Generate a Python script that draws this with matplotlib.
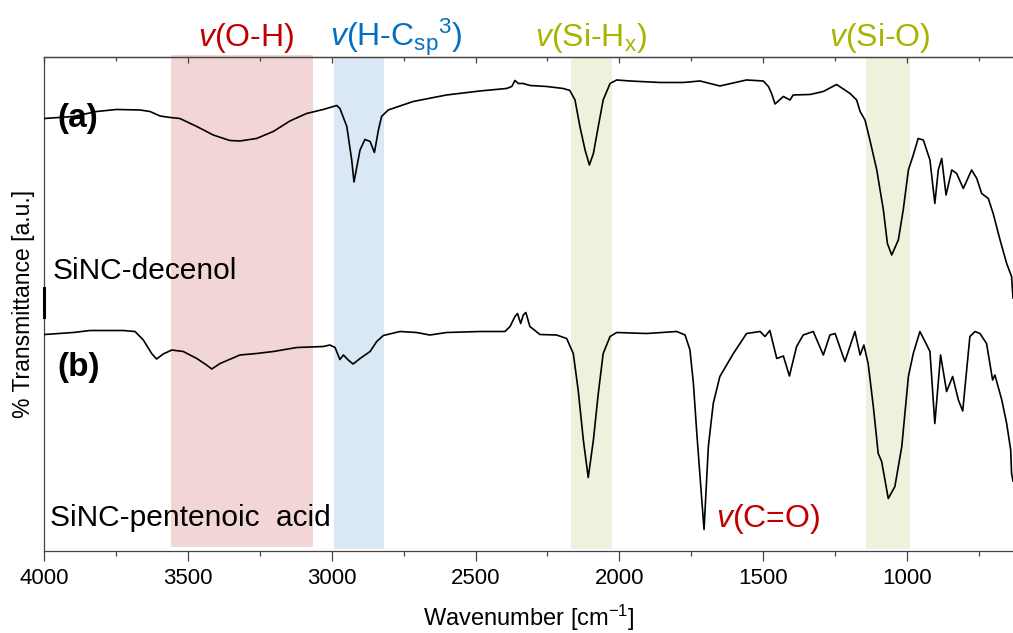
import matplotlib
matplotlib.use("Agg")
import matplotlib.pyplot as plt
from matplotlib.ticker import MultipleLocator

plt.rcParams["font.family"] = ["Liberation Sans", "DejaVu Sans"]
plt.rcParams["mathtext.fontset"] = "custom"
plt.rcParams["mathtext.rm"] = "Liberation Sans"
plt.rcParams["mathtext.it"] = "Liberation Sans:italic"
plt.rcParams["mathtext.bf"] = "Liberation Sans:bold"

# FTIR spectrum (a): SiNC-decenol (wavenumber in cm^-1, offset transmittance in a.u.)
wn_a = [4000, 3900, 3818, 3749, 3668, 3633, 3598, 3563, 3529, 3470, 3413, 3355,
        3320, 3262, 3204, 3146, 3088, 3030, 2983, 2972, 2948, 2931, 2923, 2902,
        2885, 2867, 2852, 2838, 2827, 2804, 2717, 2601, 2485, 2392, 2374, 2363,
        2351, 2334, 2311, 2253, 2195, 2172, 2154, 2137, 2119, 2104, 2090, 2073,
        2056, 2032, 2009, 1963, 1858, 1777, 1719, 1650, 1557, 1499, 1481, 1470,
        1458, 1429, 1406, 1395, 1336, 1290, 1244, 1197, 1174, 1162, 1145, 1128,
        1104, 1081, 1067, 1052, 1029, 1012, 994, 977, 960, 942, 919, 902, 890,
        878, 863, 843, 826, 803, 774, 756, 739, 716, 699, 675, 652, 635, 630]
t_a = [86.5, 86.9, 87.9, 88.3, 88.2, 87.9, 87.0, 86.7, 86.5, 84.9, 83.2, 82.1,
       82.0, 82.5, 83.9, 86.0, 87.5, 88.3, 89.1, 88.5, 84.9, 78.2, 73.8, 80.2,
       82.3, 81.9, 79.7, 84.2, 86.9, 88.2, 89.9, 91.2, 92.0, 92.5, 92.9, 94.1,
       93.5, 93.5, 93.1, 92.9, 92.5, 92.1, 90.2, 84.9, 80.2, 77.2, 79.5, 84.9,
       90.2, 93.5, 94.2, 94.0, 93.7, 93.7, 94.0, 93.0, 94.2, 94.0, 92.9, 91.5,
       89.4, 90.9, 90.2, 91.2, 91.3, 91.9, 93.3, 91.5, 90.2, 87.9, 86.2, 82.2,
       76.2, 68.2, 61.5, 59.2, 62.2, 68.2, 76.2, 79.2, 82.5, 82.2, 78.2, 69.5, 76.2,
       78.5, 71.2, 76.2, 75.5, 72.5, 76.2, 74.5, 71.5, 70.5, 67.5, 62.2, 57.5, 54.9, 50.6]

# FTIR spectrum (b): SiNC-pentenoic acid
wn_b = [4000, 3900, 3842, 3726, 3685, 3656, 3627, 3610, 3587, 3557, 3517, 3470,
        3436, 3418, 3389, 3320, 3262, 3204, 3122, 3030, 3007, 2989, 2972, 2960,
        2943, 2926, 2902, 2867, 2844, 2821, 2763, 2705, 2659, 2601, 2485, 2398,
        2380, 2363, 2354, 2343, 2334, 2325, 2311, 2276, 2218, 2183, 2160, 2143,
        2125, 2108, 2090, 2073, 2056, 2032, 2009, 1905, 1800, 1771, 1754, 1742,
        1731, 1719, 1705, 1690, 1673, 1650, 1603, 1557, 1510, 1493, 1476, 1452,
        1429, 1408, 1383, 1360, 1325, 1290, 1267, 1249, 1215, 1180, 1162, 1149,
        1134, 1116, 1099, 1087, 1064, 1041, 1017, 994, 977, 954, 930, 919, 902,
        882, 861, 840, 820, 805, 780, 762, 745, 722, 701, 693, 669, 652, 638,
        635, 630]
t_b = [43.3, 43.7, 44.1, 44.1, 43.9, 42.2, 39.5, 38.4, 39.4, 40.2, 39.9, 38.5,
       37.2, 36.4, 37.5, 39.2, 39.5, 39.9, 40.7, 40.9, 41.2, 40.7, 38.3, 39.2,
       38.2, 37.4, 38.5, 39.9, 41.9, 43.1, 43.9, 43.7, 43.2, 43.7, 43.9, 43.9,
       44.9, 46.9, 47.5, 45.5, 47.2, 47.7, 44.9, 43.3, 43.2, 42.5, 39.5, 32.2,
       22.2, 14.7, 22.2, 31.5, 39.5, 42.9, 43.7, 43.5, 43.9, 43.2, 40.2, 33.5,
       24.2, 14.9, 4.3, 20.9, 29.5, 34.9, 39.5, 43.5, 43.9, 42.9, 44.1, 38.5,
       39.0, 35.0, 40.9, 43.2, 43.9, 39.2, 43.2, 43.5, 37.9, 43.9, 39.2, 41.2,
       37.5, 28.9, 19.5, 17.9, 10.5, 12.9, 20.9, 34.9, 39.5, 43.9, 41.2, 39.9, 25.5,
       39.2, 31.9, 34.9, 30.2, 28.0, 42.9, 43.9, 43.5, 41.5, 34.2, 35.2, 30.2, 25.5, 20.2,
       15.5, 14.0]

# Assigned vibration bands: (high wavenumber, low wavenumber)
band_oh = (3560, 3065)
band_ch = (2993, 2818)
band_sih = (2168, 2027)
band_sio = (1142, 990)

red = "#c00000"
blue = "#0070c0"
olive = "#a8b400"

fig = plt.figure(figsize=(10.13, 6.33), dpi=100)
ax = fig.add_axes([0.0439, 0.1295, 0.9561, 0.7797])

ax.axvspan(*band_oh, ymin=0.008, ymax=1.005, color="#f2d6d6", lw=0, clip_on=False, zorder=0)
ax.axvspan(*band_ch, ymin=0.004, ymax=1.0, color="#dae7f4", lw=0, zorder=0)
ax.axvspan(*band_sih, ymin=0.004, ymax=1.0, color="#eff1dc", lw=0, zorder=0)
ax.axvspan(*band_sio, ymin=0.004, ymax=1.0, color="#eff1dc", lw=0, zorder=0)

ax.plot(wn_a, t_a, color="black", lw=1.2, zorder=3)
ax.plot(wn_b, t_b, color="black", lw=1.2, zorder=3)

ax.set_xlim(4000, 630)
ax.set_ylim(0, 98.7)

ax.xaxis.set_major_locator(MultipleLocator(500))
ax.xaxis.set_minor_locator(MultipleLocator(250))
ax.tick_params(axis="x", which="major", direction="out", length=7, width=0.9,
               color="#444444", labelsize=16, pad=5, top=False)
ax.tick_params(axis="x", which="minor", direction="out", length=3.5, width=0.9,
               color="#444444", top=False)
ax.set_yticks([])

# inward ticks along the top edge
sec = ax.secondary_xaxis("top")
sec.xaxis.set_major_locator(MultipleLocator(500))
sec.xaxis.set_minor_locator(MultipleLocator(250))
sec.tick_params(axis="x", which="major", direction="in", length=4, width=0.9,
                color="#444444", labeltop=False)
sec.tick_params(axis="x", which="minor", direction="in", length=3, width=0.9,
                color="#444444")
sec.spines["top"].set_color("#444444")
sec.spines["top"].set_linewidth(0.9)

for side in ("top", "bottom", "left"):
    ax.spines[side].set_color("#444444")
    ax.spines[side].set_linewidth(0.9)
ax.spines["right"].set_visible(False)

ax.set_xlabel("Wavenumber [cm$^{\\mathregular{-1}}$]", fontsize=17, labelpad=10)
ax.set_ylabel("% Transmittance [a.u.]", fontsize=16.5, labelpad=7)

# small bar on the left axis between the two traces
ax.axvline(4000, ymin=0.474, ymax=0.533, color="black", lw=2.2, zorder=4, clip_on=False)

label_fs = 23
ax.text(3300, 101.0, "$\\mathit{v}$(O-H)", color=red, fontsize=label_fs,
        ha="center", va="baseline", clip_on=False)
ax.text(3008, 101.0, "$\\mathit{v}$(H-C$_{\\mathrm{sp}}$$^{\\mathrm{3}}$)", color=blue,
        fontsize=label_fs, ha="left", va="baseline", clip_on=False)
ax.text(2098, 101.0, "$\\mathit{v}$(Si-H$_{\\mathrm{x}}$)", color=olive, fontsize=label_fs,
        ha="center", va="baseline", clip_on=False)
ax.text(1093, 101.0, "$\\mathit{v}$(Si-O)", color=olive, fontsize=label_fs,
        ha="center", va="baseline", clip_on=False)
ax.text(1482, 4.9, "$\\mathit{v}$(C=O)", color=red, fontsize=label_fs,
        ha="center", va="baseline")

ax.text(3955, 86.4, "(a)", fontsize=24, fontweight="bold", ha="left", va="center", zorder=2)
ax.text(3955, 36.8, "(b)", fontsize=24, fontweight="bold", ha="left", va="center", zorder=2)
ax.text(3972, 56.0, "SiNC-decenol", fontsize=21.5, ha="left", va="center")
ax.text(3980, 6.6, "SiNC-pentenoic  acid", fontsize=21.5, ha="left", va="center")

fig.savefig("out.png", dpi=100)
